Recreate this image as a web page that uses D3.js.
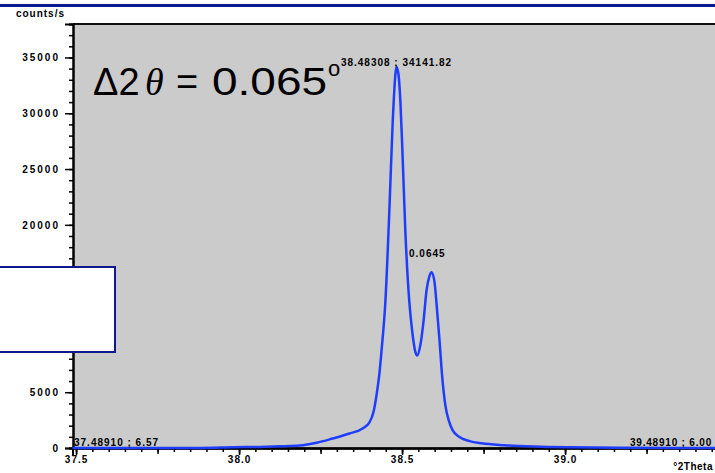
<!DOCTYPE html>
<html>
<head>
<meta charset="utf-8">
<script src="https://cdn.jsdelivr.net/npm/d3@7"></script>
<style>
  html, body { margin: 0; padding: 0; background: #ffffff; }
  svg { display: block; }
  .lbl { font-family: "Liberation Sans", Arial, sans-serif; font-weight: bold; font-size: 10px; fill: #000; }
</style>
</head>
<body>
<svg id="chart" width="715" height="473"></svg>
<script>
// ---- data ----
const twoTheta = [37.4891, 37.7255, 37.8788, 37.980, 38.063, 38.124, 38.186, 38.238, 38.287, 38.339,
  38.379, 38.400, 38.413, 38.422, 38.431, 38.437, 38.449, 38.462, 38.471, 38.480,
  38.48308, 38.489, 38.495, 38.501, 38.510, 38.522, 38.531, 38.541, 38.547, 38.556,
  38.566, 38.575, 38.584, 38.590, 38.599, 38.605, 38.615, 38.624, 38.633, 38.643,
  38.655, 38.676, 38.707, 38.744, 38.814, 38.906, 39.014, 39.167, 39.4891];
const counts = [6.57, 5, 10, 60, 100, 150, 220, 470, 850, 1300,
  1750, 2300, 3300, 4800, 6800, 8700, 13200, 22000, 29000, 33600,
  34141.82, 33500, 31000, 26700, 19500, 13200, 10500, 8600, 8300, 9200,
  11400, 14100, 15400, 15750, 15000, 13200, 9600, 6100, 3800, 2500,
  1600, 980, 620, 420, 250, 130, 60, 20, 6.00];
const yMajorTicks = [0, 5000, 10000, 15000, 20000, 25000, 30000, 35000];
const yTickLabels = ["0", "5000", "10000", "15000", "20000", "25000", "30000", "35000"];
const xMajorTicks = [37.5, 38.0, 38.5, 39.0];
const xTickLabels = ["37.5", "38.0", "38.5", "39.0"];
const peakLabel = "38.48308 ; 34141.82";
const secondLabel = "0.0645";
const startLabel = "37.48910 ; 6.57";
const endLabel = "39.48910 ; 6.00";
const yTitle = "counts/s";
const xTitle = "°2Theta";

// ---- layout ----
const svg = d3.select("#chart");
const plotL = 73, plotT = 24, plotB = 448, plotR = 724.5;
const x = d3.scaleLinear().domain([37.4891, 39.4891]).range([72.5, plotR]);
const y = d3.scaleLinear().domain([0, 38000]).range([plotB, plotT]);

// top decorative rule
svg.append("line").attr("x1", 0).attr("x2", 715).attr("y1", 5.5).attr("y2", 5.5)
  .attr("stroke", "#0d1a8f").attr("stroke-width", 3);

// plot background
svg.append("rect").attr("x", plotL).attr("y", plotT).attr("width", 715 - plotL).attr("height", plotB - plotT)
  .attr("fill", "#cbcbcb");
svg.append("line").attr("x1", plotL).attr("x2", 715).attr("y1", plotT).attr("y2", plotT)
  .attr("stroke", "#111").attr("stroke-width", 2);

// y axis
const yMinor = d3.range(0, 38001, 1000);
const yMinorAxis = d3.axisLeft(y).tickValues(yMinor).tickSize(4).tickFormat("");
const yMajorAxis = d3.axisLeft(y).tickValues(yMajorTicks).tickSize(8).tickPadding(5)
  .tickFormat((d, i) => yTickLabels[i]);
const gy1 = svg.append("g").attr("transform", `translate(${plotL},0)`).call(yMinorAxis);
const gy2 = svg.append("g").attr("transform", `translate(${plotL},0)`).call(yMajorAxis);
[gy1, gy2].forEach(g => {
  g.select(".domain").attr("stroke", "#000").attr("stroke-width", 2);
  g.selectAll(".tick line").attr("stroke", "#000").attr("stroke-width", 1.5);
});
gy2.selectAll(".tick text").attr("class", "lbl").style("letter-spacing", "2px")
  .attr("font-family", null).attr("font-size", null).attr("fill", "#000");

// x axis
const xMinor = d3.range(0, 40).map(i => +(37.5 + i * 0.05).toFixed(2));
const xMid = d3.range(0, 8).map(i => 37.5 + i * 0.25);
const gx1 = svg.append("g").attr("transform", `translate(0,${plotB})`)
  .call(d3.axisBottom(x).tickValues(xMinor).tickSize(4).tickFormat(""));
const gx2 = svg.append("g").attr("transform", `translate(0,${plotB})`)
  .call(d3.axisBottom(x).tickValues(xMid).tickSize(6).tickFormat(""));
const gx3 = svg.append("g").attr("transform", `translate(0,${plotB})`)
  .call(d3.axisBottom(x).tickValues(xMajorTicks).tickSize(7).tickPadding(1)
    .tickFormat((d, i) => xTickLabels[i]));
[gx1, gx2, gx3].forEach(g => {
  g.select(".domain").attr("stroke", "#000").attr("stroke-width", 2);
  g.selectAll(".tick line").attr("stroke", "#000").attr("stroke-width", 1.5);
});
gx3.selectAll(".tick text").attr("class", "lbl").style("letter-spacing", "1px")
  .attr("font-family", null).attr("font-size", null).attr("fill", "#000");

// data line
const pts = twoTheta.map((t, i) => [t, counts[i]]);
const line = d3.line().x(d => x(d[0])).y(d => y(d[1])).curve(d3.curveMonotoneX);
svg.append("path").datum(pts).attr("d", line)
  .attr("fill", "none").attr("stroke", "#1f3dff").attr("stroke-width", 2.5);

// axis titles
svg.append("text").attr("class", "lbl").attr("x", 65).attr("y", 17).attr("text-anchor", "end")
  .style("letter-spacing", "1px").text(yTitle);
svg.append("text").attr("class", "lbl").attr("x", 713).attr("y", 470).attr("text-anchor", "end")
  .style("letter-spacing", "0.5px").text(xTitle);

// annotations
svg.append("text").attr("class", "lbl").attr("x", x(twoTheta[20])).attr("y", 66)
  .attr("text-anchor", "middle").style("letter-spacing", "1px").text(peakLabel);
svg.append("text").attr("class", "lbl").attr("x", 409).attr("y", 257)
  .style("letter-spacing", "1px").text(secondLabel);
svg.append("text").attr("class", "lbl").attr("x", 74).attr("y", 446)
  .style("letter-spacing", "1px").text(startLabel);
svg.append("text").attr("class", "lbl").attr("x", 712).attr("y", 446).attr("text-anchor", "end")
  .style("letter-spacing", "0.8px").text(endLabel);

// big delta-two-theta annotation
const big = svg.append("g").attr("fill", "#000");
big.append("text").attr("x", 93).attr("y", 95)
  .attr("font-family", "Liberation Sans, Arial, sans-serif").attr("font-size", 38).text("Δ2");
big.append("text").attr("x", 145).attr("y", 95)
  .attr("font-family", "Liberation Serif, Times New Roman, serif").attr("font-style", "italic")
  .attr("font-size", 38).text("θ");
big.append("text").attr("x", 176).attr("y", 95)
  .attr("font-family", "Liberation Sans, Arial, sans-serif").attr("font-size", 38).text("=");
big.append("text").attr("x", 212).attr("y", 95)
  .attr("font-family", "Liberation Sans, Arial, sans-serif").attr("font-size", 38)
  .attr("textLength", 115).attr("lengthAdjust", "spacingAndGlyphs").text("0.065");
big.append("text").attr("x", 328).attr("y", 76)
  .attr("font-family", "Liberation Sans, Arial, sans-serif").attr("font-size", 22).text("o");

// white overlay box at left
svg.append("rect").attr("x", -2).attr("y", 267).attr("width", 117).attr("height", 85)
  .attr("fill", "#ffffff").attr("stroke", "#0d1a8f").attr("stroke-width", 2);
</script>
</body>
</html>
